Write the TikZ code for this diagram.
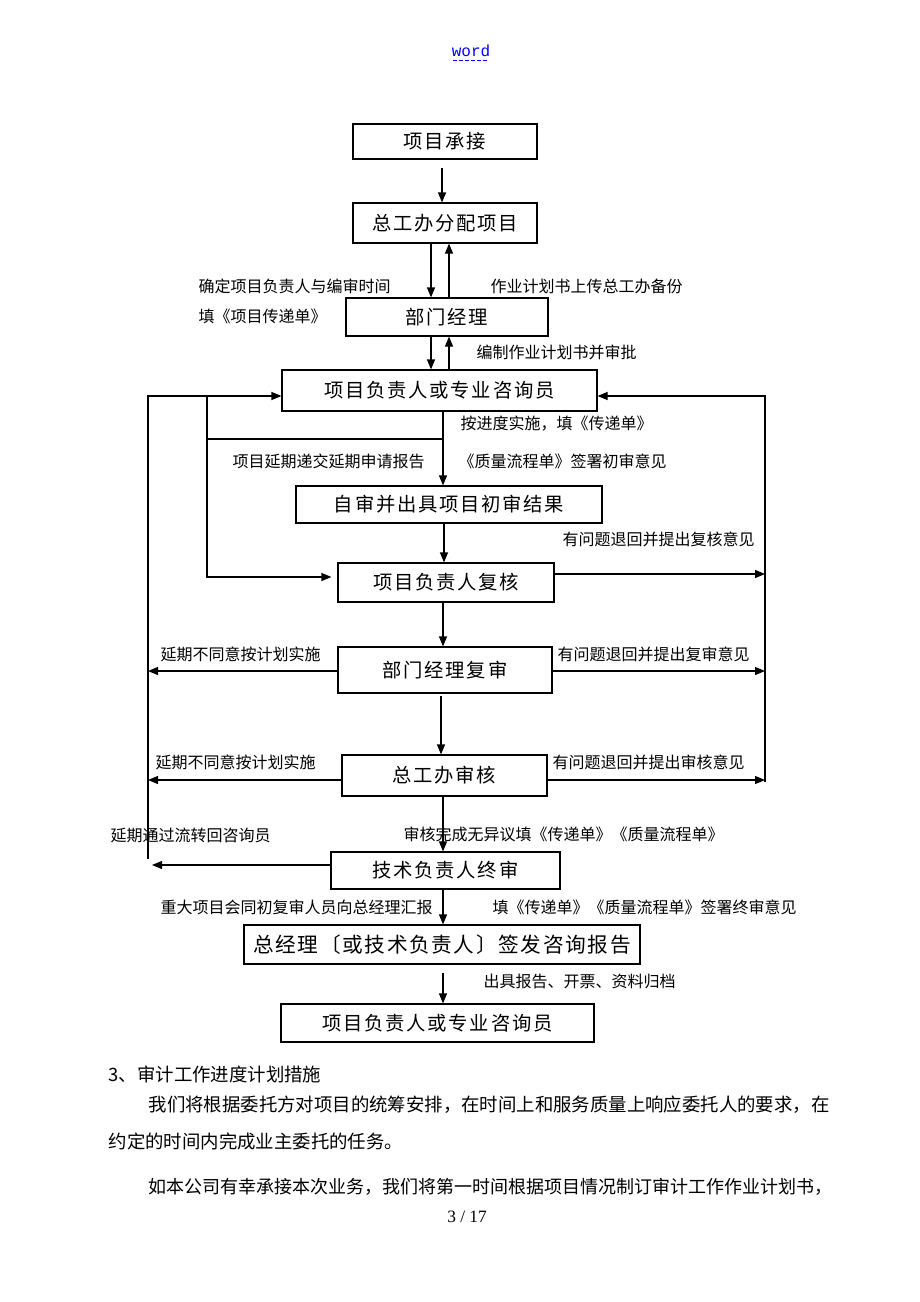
\documentclass[tikz,border=0pt]{standalone}
\usepackage{fontspec}
\usetikzlibrary{arrows.meta}
\newfontfamily\cjk{Noto Sans CJK SC}
\newfontfamily\cjkbox[LetterSpace=9]{Noto Sans CJK SC}
\newfontfamily\cjkboxb[LetterSpace=8]{Noto Sans CJK SC}
\newfontfamily\wordfont{Liberation Mono}
\newfontfamily\numfont{Liberation Serif}
\begin{document}
\begin{tikzpicture}[x=0.75pt,y=-0.75pt, line width=0.9pt,
  box/.style={draw, inner sep=0pt, font=\cjkbox\fontsize{14.5}{16}\selectfont},
  arr/.style={-{Triangle[length=7.5pt,width=6pt]}},
  lbl/.style={anchor=west, inner sep=0pt, font=\cjk\fontsize{12}{14}\selectfont},
  para/.style={anchor=west, inner sep=0pt, font=\cjk\fontsize{13.8}{16}\selectfont}]
\fill[white] (0,0) rectangle (920,1302);
\useasboundingbox (0,0) rectangle (920,1302);

% header
\node[inner sep=0pt, text=blue, font=\wordfont\fontsize{12}{14}\selectfont] (hdr) at (471,51) {word};
\coordinate (u1) at (453,60);
\coordinate (u2) at (489,60);
\draw[blue, line width=0.6pt, dash pattern=on 3pt off 1.5pt] (u1) -- (u2);

% boxes
\node[box, minimum width=138pt, minimum height=26.25pt] (b1) at (445,141.5) {项目承接};
\node[box, minimum width=138pt, minimum height=30pt] (b2) at (445,223) {总工办分配项目};
\node[box, minimum width=151.5pt, minimum height=28.5pt] (b3) at (447,317) {部门经理};
\node[box, minimum width=236.25pt, minimum height=30.75pt] (b4) at (439.5,390.5) {项目负责人或专业咨询员};
\node[box, minimum width=229.5pt, minimum height=27.75pt] (b5) at (449,504.5) {自审并出具项目初审结果};
\node[box, minimum width=162pt, minimum height=29.25pt] (b6) at (446,582.5) {项目负责人复核};
\node[box, minimum width=160.5pt, minimum height=34.5pt] (b7) at (445,670) {部门经理复审};
\node[box, minimum width=153.75pt, minimum height=30.75pt] (b8) at (444.5,775.5) {总工办审核};
\node[box, minimum width=171.75pt, minimum height=27.75pt] (b9) at (445.5,870.5) {技术负责人终审};
\node[box, minimum width=297pt, minimum height=29.25pt, font=\cjkboxb\fontsize{15.5}{17}\selectfont] (b10) at (442,944.5) {总经理〔或技术负责人〕签发咨询报告};
\node[box, minimum width=234.75pt, minimum height=28.5pt] (b11) at (437.5,1023) {项目负责人或专业咨询员};

% reference coordinates
\coordinate (x431) at (431,0);
\coordinate (x449) at (449,0);
\coordinate (x441) at (441,0);
\coordinate (x442) at (442,0);
\coordinate (x443) at (443,0);
\coordinate (x444) at (444,0);
\coordinate (y574) at (0,574);
\coordinate (y671) at (0,671);
\coordinate (y780) at (0,780);
\coordinate (y865) at (0,865);
\coordinate (s1) at ([yshift=-6pt]b1.south);
\coordinate (s7) at ([yshift=-1.5pt]b7.south);
\coordinate (s10) at ([yshift=-6pt]b10.south);

% main vertical flow
\draw[arr] (s1 -| x442) -- (b2.north -| x442);
\draw[arr] (b2.south -| x431) -- (b3.north -| x431);
\draw[arr] (b3.north -| x449) -- (b2.south -| x449);
\draw[arr] (b3.south -| x431) -- (b4.north -| x431);
\draw[arr] (b4.north -| x449) -- (b3.south -| x449);
\draw[arr] (b4.south -| x443) -- (b5.north -| x443);
\draw[arr] (b5.south -| x444) -- (b6.north -| x444);
\draw[arr] (b6.south -| x443) -- (b7.north -| x443);
\draw[arr] (s7 -| x441) -- (b8.north -| x441);
\draw[arr] (b8.south -| x443) -- (b9.north -| x443);
\draw[arr] (b9.south -| x443) -- (b10.north -| x443);
\draw[arr] (s10 -| x443) -- (b11.north -| x443);

% inner left loop (delay request)
\coordinate (J1) at (443,439);
\coordinate (J2) at (207,439);
\coordinate (J3) at (207,396);
\coordinate (J4) at (207,577);
\draw (J1) -- (J2);
\draw[arr, shorten >=4.5pt] (J3) -- (J4) -- (b6.west |- J4);

% outer left return line
\coordinate (L1) at (148,396);
\coordinate (L2) at (148,859);
\draw[arr] (L2) -- (L1) -- (b4.west |- L1);
\draw[arr] (b7.west |- y671) -- (L1 |- y671);
\draw[arr] (b8.west |- y780) -- (L1 |- y780);
\draw[arr, shorten >=3pt] (b9.west |- y865) -- (L1 |- y865);

% right return line
\coordinate (R1) at (765,396);
\coordinate (R2) at (765,782);
\draw[arr] (R2) -- (R1) -- (b4.east |- R1);
\draw[arr] (b6.east |- y574) -- (R1 |- y574);
\draw[arr] (b7.east |- y671) -- (R1 |- y671);
\draw[arr] (b8.east |- y780) -- (R1 |- y780);

% labels
\node[lbl] (t1) at (198,286) {确定项目负责人与编审时间};
\node[lbl] (t2) at (198,316) {填《项目传递单》};
\node[lbl] (t3) at (490,286) {作业计划书上传总工办备份};
\node[lbl] (t4) at (476,352) {编制作业计划书并审批};
\node[lbl] (t5) at (460,424) {按进度实施，填《传递单》};
\node[lbl] (t6) at (232,461) {项目延期递交延期申请报告};
\node[lbl] (t7) at (458,461) {《质量流程单》签署初审意见};
\node[lbl] (t8) at (562,539) {有问题退回并提出复核意见};
\node[lbl] (t9) at (160,654) {延期不同意按计划实施};
\node[lbl] (t10) at (557,654) {有问题退回并提出复审意见};
\node[lbl] (t11) at (155,762) {延期不同意按计划实施};
\node[lbl] (t12) at (552,762) {有问题退回并提出审核意见};
\node[lbl] (t13) at (110,835) {延期通过流转回咨询员};
\node[lbl] (t14) at (403,834) {审核完成无异议填《传递单》《质量流程单》};
\node[lbl] (t15) at (160,907) {重大项目会同初复审人员向总经理汇报};
\node[lbl] (t16) at (492,907) {填《传递单》《质量流程单》签署终审意见};
\node[lbl] (t17) at (483,981) {出具报告、开票、资料归档};

% body text
\node[para] (p0) at (108,1074) {3、审计工作进度计划措施};
\node[para] (p1) at (148,1105) {我们将根据委托方对项目的统筹安排，在时间上和服务质量上响应委托人的要求，在};
\node[para] (p2) at (108,1141) {约定的时间内完成业主委托的任务。};
\node[para, font=\cjk\fontsize{13.5}{16}\selectfont] (p3) at (148,1187) {如本公司有幸承接本次业务，我们将第一时间根据项目情况制订审计工作作业计划书，};
\node[inner sep=0pt, font=\numfont\fontsize{13}{15}\selectfont] (pg) at (467,1217) {3 / 17};
\end{tikzpicture}
\end{document}
